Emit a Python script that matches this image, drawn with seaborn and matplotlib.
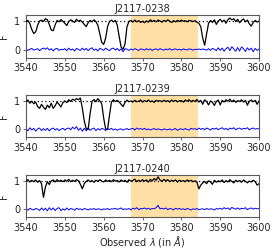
import numpy as np
import pandas as pd
import matplotlib
matplotlib.use("Agg")
import matplotlib.pyplot as plt
import seaborn as sns

titles = ["J2117-0238", "J2117-0239", "J2117-0240"]
wave_start = 3540.0
wave_step = 0.5
shade_range = (3567.0, 3584.2)
xticks = [3540, 3550, 3560, 3570, 3580, 3590, 3600]
yticks = [0, 1]

flux_0238 = [
    0.98, 1.02, 0.90, 0.70, 0.56, 0.62, 0.85, 1.00, 1.03, 0.98,
    1.08, 1.04, 0.88, 0.68, 0.66, 0.86, 1.02, 0.97, 1.05, 0.99,
    0.92, 0.84, 0.98, 1.04, 1.00, 0.95, 1.06, 0.99, 1.03, 0.96,
    0.88, 0.80, 0.94, 1.02, 0.97, 1.04, 0.98, 0.85, 0.55, 0.25,
    0.18, 0.40, 0.80, 0.98, 1.03, 0.97, 1.02, 0.85, 0.45, 0.08,
    0.01, 0.20, 0.80, 0.98, 1.02, 0.96, 1.03, 0.97, 1.01, 0.95,
    0.99, 0.94, 1.00, 0.96, 1.04, 0.98, 1.02, 0.97, 1.03, 1.00,
    0.96, 1.02, 0.98, 1.04, 0.99, 0.95, 1.01, 0.97, 1.02, 0.98,
    1.03, 0.99, 1.01, 0.97, 1.02, 1.00, 0.98, 1.01, 0.96, 0.92,
    0.80, 0.40, 0.15, 0.55, 0.92, 1.02, 0.95, 1.04, 0.88, 1.00,
    1.06, 0.97, 1.03, 0.92, 1.05, 1.10, 1.04, 1.08, 0.98, 1.06,
    0.94, 1.02, 1.07, 0.97, 1.03, 0.90, 0.82, 0.95, 1.02, 0.96,
    1.00,
]
err_0238 = [
    0.02, -0.03, 0.01, 0.04, -0.02, 0.00, 0.03, -0.04, 0.02, 0.05,
    0.01, 0.06, -0.02, 0.03, -0.05, 0.02, 0.04, -0.03, 0.01, -0.01,
    0.03, -0.04, 0.05, -0.02, 0.02, -0.05, 0.04, 0.00, -0.03, 0.05,
    -0.02, 0.04, -0.04, 0.03, 0.06, -0.03, 0.02, -0.05, 0.04, 0.01,
    -0.03, 0.05, 0.00, -0.04, 0.03, 0.05, -0.02, 0.04, -0.04, 0.02,
    -0.08, 0.03, 0.01, -0.03, 0.02, -0.02, 0.03, 0.00, -0.03, 0.02,
    0.01, -0.02, 0.03, -0.01, 0.02, -0.03, 0.01, 0.02, -0.02, 0.03,
    0.00, -0.02, 0.02, -0.01, 0.03, -0.02, 0.01, 0.02, -0.01, 0.01,
    -0.02, 0.02, 0.00, -0.01, 0.02, 0.01, -0.02, 0.01, 0.00, 0.02,
    -0.01, 0.02, 0.00, -0.02, 0.03, -0.03, 0.04, 0.01, -0.04, 0.06,
    -0.03, 0.05, -0.06, 0.03, 0.08, -0.04, 0.10, 0.02, -0.06, 0.07,
    -0.05, 0.09, 0.03, -0.07, 0.06, -0.02, 0.05, -0.08, 0.04, -0.03,
    0.02,
]

flux_0239 = [
    0.98, 1.03, 0.92, 0.99, 0.90, 0.96, 0.80, 0.74, 0.88, 0.78,
    0.70, 0.85, 0.76, 0.92, 0.74, 0.83, 0.96, 0.88, 0.79, 0.94,
    1.00, 0.94, 1.04, 0.98, 1.06, 1.02, 1.08, 1.04, 1.10, 0.75,
    0.30, 0.02, 0.00, 0.55, 0.98, 1.05, 0.97, 1.08, 1.00, 0.90,
    0.40, 0.02, 0.00, 0.50, 0.96, 1.04, 0.98, 1.02, 0.96, 0.88,
    0.80, 0.95, 1.03, 0.97, 1.00, 0.96, 1.02, 0.97, 0.99, 1.03,
    0.96, 1.01, 0.98, 1.03, 0.97, 1.00, 0.95, 1.02, 0.99, 1.01,
    0.97, 1.02, 0.98, 1.01, 0.96, 1.03, 0.98, 1.02, 0.97, 1.00,
    1.01, 0.96, 1.03, 0.99, 1.04, 0.97, 1.02, 0.98, 1.05, 0.96,
    1.02, 0.88, 1.04, 0.97, 0.86, 1.00, 0.95, 0.84, 0.98, 1.03,
    0.86, 1.02, 0.96, 1.04, 0.99, 1.06, 0.97, 1.03, 0.95, 1.01,
    0.98, 1.04, 0.96, 1.02, 0.85, 0.99, 1.03, 0.97, 1.02, 0.88,
    1.00,
]
err_0239 = [
    0.03, -0.05, 0.06, -0.02, 0.04, -0.06, 0.02, 0.05, -0.04, 0.03,
    -0.03, 0.04, -0.05, 0.02, 0.05, -0.02, 0.03, -0.04, 0.01, 0.04,
    -0.02, 0.03, 0.05, -0.01, 0.08, 0.02, 0.10, -0.03, 0.05, -0.06,
    0.04, -0.05, 0.06, -0.03, 0.02, 0.05, -0.04, 0.03, -0.02, 0.04,
    0.01, -0.04, 0.03, 0.00, 0.04, -0.02, 0.02, -0.03, 0.01, 0.02,
    -0.02, 0.01, 0.03, -0.01, 0.02, 0.04, -0.02, 0.05, 0.01, 0.03,
    0.00, 0.04, -0.01, 0.02, -0.02, 0.01, 0.03, -0.01, 0.02, 0.00,
    -0.02, 0.02, 0.00, -0.01, 0.02, -0.02, 0.01, 0.03, -0.03, 0.01,
    0.02, -0.01, 0.03, 0.00, -0.02, 0.04, 0.01, 0.03, -0.01, 0.05,
    0.00, 0.04, -0.01, 0.05, 0.02, -0.02, 0.04, 0.01, 0.05, -0.01,
    0.03, 0.06, 0.00, 0.04, -0.02, 0.05, 0.02, 0.06, -0.01, 0.03,
    0.05, 0.00, 0.04, 0.02, 0.06, -0.01, 0.03, 0.05, 0.01, 0.03,
    0.02,
]

flux_0240 = [
    1.00, 1.04, 0.96, 1.02, 0.97, 1.03, 0.95, 1.01, 0.90, 0.42,
    0.78, 0.97, 0.87, 1.00, 1.03, 0.96, 1.04, 0.98, 1.02, 0.97,
    1.03, 0.99, 1.05, 0.97, 1.02, 0.98, 1.04, 1.00, 0.88, 0.72,
    0.90, 0.98, 1.03, 0.97, 1.01, 0.95, 1.02, 0.98, 1.04, 0.99,
    0.96, 1.03, 0.98, 1.02, 0.97, 1.04, 0.99, 1.01, 0.96, 1.03,
    0.98, 1.02, 0.95, 1.04, 0.99, 1.01, 1.06, 0.97, 1.02, 0.98,
    1.04, 0.99, 1.03, 0.96, 1.05, 1.00, 1.08, 1.02, 1.14, 1.03,
    0.98, 1.05, 1.00, 1.04, 0.97, 1.02, 0.99, 1.03, 0.96, 1.02,
    0.98, 1.01, 0.97, 1.03, 0.99, 1.02, 0.97, 1.00, 0.96, 0.72,
    0.85, 0.93, 0.98, 0.90, 1.00, 0.96, 0.88, 1.02, 0.95, 1.00,
    0.97, 1.03, 0.94, 1.01, 0.96, 1.04, 0.98, 0.93, 1.02, 0.97,
    1.01, 0.95, 1.03, 0.98, 0.93, 0.99, 0.96, 1.02, 0.97, 0.85,
    0.90,
]
err_0240 = [
    0.02, -0.03, 0.04, 0.00, -0.02, 0.03, 0.01, -0.04, 0.05, -0.03,
    0.04, -0.05, 0.06, -0.02, 0.05, -0.04, 0.03, 0.06, -0.05, 0.02,
    -0.03, 0.05, -0.02, 0.03, 0.01, -0.03, 0.04, 0.00, 0.02, -0.02,
    0.03, 0.01, -0.02, 0.02, 0.00, 0.03, -0.01, 0.02, 0.01, -0.02,
    0.02, 0.00, 0.03, -0.01, 0.02, 0.01, 0.04, 0.00, 0.02, 0.05,
    -0.01, 0.02, 0.00, 0.03, -0.02, 0.04, 0.01, 0.06, -0.01, 0.03,
    0.02, 0.05, 0.01, 0.04, 0.00, 0.03, 0.02, 0.06, 0.14, 0.02,
    0.04, 0.01, 0.05, -0.01, 0.03, 0.02, -0.02, 0.04, 0.01, 0.03,
    0.00, 0.02, -0.01, 0.03, 0.01, -0.02, 0.02, 0.00, 0.03, -0.01,
    0.01, 0.02, -0.01, 0.03, 0.00, 0.02, 0.01, -0.02, 0.03, 0.01,
    0.04, 0.00, 0.06, 0.02, 0.05, -0.01, 0.07, 0.03, 0.01, 0.05,
    0.00, 0.04, 0.02, 0.06, -0.01, 0.03, 0.05, 0.01, 0.04, 0.02,
    0.03,
]

fluxes = [flux_0238, flux_0239, flux_0240]
errors = [err_0238, err_0239, err_0240]

sns.set_style("white")
plt.rcParams["font.family"] = ["DejaVu Sans"]
plt.rcParams["font.size"] = 7

fig = plt.figure(figsize=(2.75, 2.49), dpi=100)
left, width = 0.0945, 0.8475
bottoms = [0.769, 0.448, 0.127]
height = 0.172

for k in range(3):
    ax = fig.add_axes([left, bottoms[k], width, height])
    fl = np.asarray(fluxes[k], dtype=float)
    er = np.asarray(errors[k], dtype=float)
    wave = wave_start + wave_step * np.arange(len(fl))
    df = pd.DataFrame({"wave": wave, "flux": fl, "err": er[: len(fl)]})
    ax.axvspan(shade_range[0], shade_range[1], color="orange", alpha=0.35, lw=0, zorder=0)
    ax.axhline(1.0, color="black", ls=(0, (1, 2)), lw=0.9, zorder=1)
    sns.lineplot(data=df, x="wave", y="flux", ax=ax, color="black", lw=0.9,
                 estimator=None, zorder=3)
    sns.lineplot(data=df, x="wave", y="err", ax=ax, color="#0000ff", lw=0.7,
                 estimator=None, zorder=2)
    ax.set_xlim(3540, 3600)
    ax.set_ylim(-0.28, 1.22)
    ax.set_xticks(xticks)
    ax.set_yticks(yticks)
    ax.tick_params(axis="both", labelsize=7, length=2.5, width=0.6, pad=1.5,
                   direction="out", bottom=True, left=True, color="0.3")
    for sp in ax.spines.values():
        sp.set_color("0.35")
        sp.set_linewidth(0.8)
    ax.set_title(titles[k], fontsize=7, pad=2)
    ax.set_ylabel("F", fontsize=7, labelpad=4)
    ax.yaxis.set_label_coords(-0.075, 0.5)
    if k == 2:
        ax.set_xlabel(r"Observed $\lambda$ (in $\AA$)", fontsize=7, labelpad=1)
    else:
        ax.set_xlabel("")

fig.savefig("out.png", dpi=100)
